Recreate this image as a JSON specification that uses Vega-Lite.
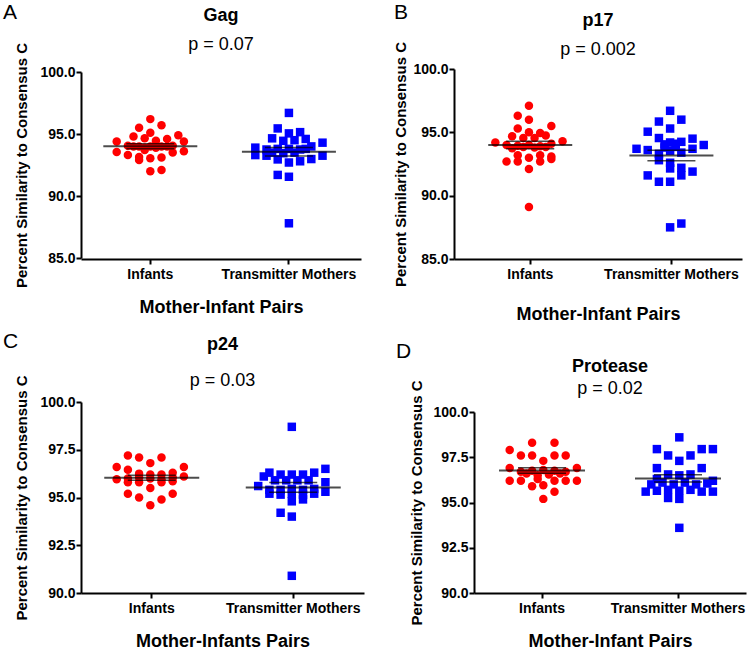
{
  "$schema": "https://vega.github.io/schema/vega-lite/v6.json",
  "background": "white",
  "padding": {"left": 2, "top": 2, "right": 2, "bottom": 0},
  "datasets": {
    "points": [
      {"panel":"A","group":"Infants","col":0,"value":96.2},{"panel":"A","group":"Infants","col":-2,"value":95.5},{"panel":"A","group":"Infants","col":2,"value":95.7},{"panel":"A","group":"Infants","col":0,"value":95.1},{"panel":"A","group":"Infants","col":-3,"value":94.8},{"panel":"A","group":"Infants","col":5,"value":94.9},{"panel":"A","group":"Infants","col":-6,"value":94.4},{"panel":"A","group":"Infants","col":-1,"value":94.65},{"panel":"A","group":"Infants","col":1,"value":94.45},{"panel":"A","group":"Infants","col":3,"value":94.6},{"panel":"A","group":"Infants","col":6,"value":94.4},{"panel":"A","group":"Infants","col":-4,"value":94.05},{"panel":"A","group":"Infants","col":-3,"value":94.0},{"panel":"A","group":"Infants","col":-2,"value":94.0},{"panel":"A","group":"Infants","col":-1,"value":93.9},{"panel":"A","group":"Infants","col":0,"value":94.0},{"panel":"A","group":"Infants","col":1,"value":93.9},{"panel":"A","group":"Infants","col":2,"value":94.0},{"panel":"A","group":"Infants","col":3,"value":94.0},{"panel":"A","group":"Infants","col":4,"value":94.05},{"panel":"A","group":"Infants","col":-6,"value":93.55},{"panel":"A","group":"Infants","col":-4,"value":93.3},{"panel":"A","group":"Infants","col":-2,"value":93.15},{"panel":"A","group":"Infants","col":4,"value":93.5},{"panel":"A","group":"Infants","col":6,"value":93.6},{"panel":"A","group":"Infants","col":-1,"value":93.7},{"panel":"A","group":"Infants","col":-2,"value":92.9},{"panel":"A","group":"Infants","col":0,"value":93.05},{"panel":"A","group":"Infants","col":2,"value":93.1},{"panel":"A","group":"Infants","col":0,"value":92.0},{"panel":"A","group":"Infants","col":2,"value":92.1},
      {"panel":"A","group":"Transmitter Mothers","col":0,"value":96.7},{"panel":"A","group":"Transmitter Mothers","col":-2,"value":95.45},{"panel":"A","group":"Transmitter Mothers","col":0,"value":95.05},{"panel":"A","group":"Transmitter Mothers","col":2,"value":95.15},{"panel":"A","group":"Transmitter Mothers","col":-3,"value":94.65},{"panel":"A","group":"Transmitter Mothers","col":-1,"value":94.45},{"panel":"A","group":"Transmitter Mothers","col":1,"value":94.5},{"panel":"A","group":"Transmitter Mothers","col":3,"value":94.6},{"panel":"A","group":"Transmitter Mothers","col":6,"value":94.3},{"panel":"A","group":"Transmitter Mothers","col":-6,"value":93.9},{"panel":"A","group":"Transmitter Mothers","col":-4,"value":93.75},{"panel":"A","group":"Transmitter Mothers","col":-2,"value":93.8},{"panel":"A","group":"Transmitter Mothers","col":0,"value":93.8},{"panel":"A","group":"Transmitter Mothers","col":2,"value":93.75},{"panel":"A","group":"Transmitter Mothers","col":4,"value":94.0},{"panel":"A","group":"Transmitter Mothers","col":-3,"value":93.5},{"panel":"A","group":"Transmitter Mothers","col":1,"value":93.5},{"panel":"A","group":"Transmitter Mothers","col":3,"value":93.8},{"panel":"A","group":"Transmitter Mothers","col":-1,"value":93.45},{"panel":"A","group":"Transmitter Mothers","col":-6,"value":93.3},{"panel":"A","group":"Transmitter Mothers","col":-4,"value":93.25},{"panel":"A","group":"Transmitter Mothers","col":-2,"value":92.95},{"panel":"A","group":"Transmitter Mothers","col":0,"value":92.7},{"panel":"A","group":"Transmitter Mothers","col":2,"value":92.8},{"panel":"A","group":"Transmitter Mothers","col":4,"value":92.98},{"panel":"A","group":"Transmitter Mothers","col":6,"value":93.25},{"panel":"A","group":"Transmitter Mothers","col":-2,"value":91.7},{"panel":"A","group":"Transmitter Mothers","col":0,"value":91.55},{"panel":"A","group":"Transmitter Mothers","col":0,"value":87.8},
      {"panel":"B","group":"Infants","col":0,"value":97.1},{"panel":"B","group":"Infants","col":-2,"value":96.3},{"panel":"B","group":"Infants","col":0,"value":96.0},{"panel":"B","group":"Infants","col":-2,"value":95.3},{"panel":"B","group":"Infants","col":4,"value":95.5},{"panel":"B","group":"Infants","col":0,"value":95.0},{"panel":"B","group":"Infants","col":2,"value":94.95},{"panel":"B","group":"Infants","col":-3,"value":94.7},{"panel":"B","group":"Infants","col":3,"value":94.75},{"panel":"B","group":"Infants","col":-1,"value":94.55},{"panel":"B","group":"Infants","col":1,"value":94.55},{"panel":"B","group":"Infants","col":-6,"value":94.2},{"panel":"B","group":"Infants","col":6,"value":94.3},{"panel":"B","group":"Infants","col":-4,"value":94.0},{"panel":"B","group":"Infants","col":-2,"value":93.95},{"panel":"B","group":"Infants","col":0,"value":94.0},{"panel":"B","group":"Infants","col":2,"value":93.9},{"panel":"B","group":"Infants","col":4,"value":94.1},{"panel":"B","group":"Infants","col":-3,"value":93.75},{"panel":"B","group":"Infants","col":-1,"value":93.85},{"panel":"B","group":"Infants","col":1,"value":93.8},{"panel":"B","group":"Infants","col":3,"value":93.85},{"panel":"B","group":"Infants","col":-2,"value":93.2},{"panel":"B","group":"Infants","col":0,"value":93.0},{"panel":"B","group":"Infants","col":2,"value":93.2},{"panel":"B","group":"Infants","col":4,"value":93.1},{"panel":"B","group":"Infants","col":4,"value":92.9},{"panel":"B","group":"Infants","col":-4,"value":92.7},{"panel":"B","group":"Infants","col":-2,"value":92.7},{"panel":"B","group":"Infants","col":2,"value":92.7},{"panel":"B","group":"Infants","col":0,"value":92.1},{"panel":"B","group":"Infants","col":0,"value":89.1},
      {"panel":"B","group":"Transmitter Mothers","col":0,"value":96.7},{"panel":"B","group":"Transmitter Mothers","col":-2,"value":95.85},{"panel":"B","group":"Transmitter Mothers","col":2,"value":96.0},{"panel":"B","group":"Transmitter Mothers","col":-4,"value":95.05},{"panel":"B","group":"Transmitter Mothers","col":0,"value":95.3},{"panel":"B","group":"Transmitter Mothers","col":-2,"value":94.55},{"panel":"B","group":"Transmitter Mothers","col":4,"value":94.5},{"panel":"B","group":"Transmitter Mothers","col":0,"value":94.2},{"panel":"B","group":"Transmitter Mothers","col":2,"value":94.25},{"panel":"B","group":"Transmitter Mothers","col":-1,"value":94.05},{"panel":"B","group":"Transmitter Mothers","col":1,"value":94.1},{"panel":"B","group":"Transmitter Mothers","col":-6,"value":93.7},{"panel":"B","group":"Transmitter Mothers","col":6,"value":94.0},{"panel":"B","group":"Transmitter Mothers","col":4,"value":93.7},{"panel":"B","group":"Transmitter Mothers","col":-4,"value":93.6},{"panel":"B","group":"Transmitter Mothers","col":-1,"value":93.8},{"panel":"B","group":"Transmitter Mothers","col":1,"value":93.85},{"panel":"B","group":"Transmitter Mothers","col":0,"value":93.55},{"panel":"B","group":"Transmitter Mothers","col":-2,"value":93.3},{"panel":"B","group":"Transmitter Mothers","col":2,"value":93.4},{"panel":"B","group":"Transmitter Mothers","col":-2,"value":92.8},{"panel":"B","group":"Transmitter Mothers","col":0,"value":92.6},{"panel":"B","group":"Transmitter Mothers","col":-4,"value":91.6},{"panel":"B","group":"Transmitter Mothers","col":2,"value":91.6},{"panel":"B","group":"Transmitter Mothers","col":4,"value":91.9},{"panel":"B","group":"Transmitter Mothers","col":2,"value":92.2},{"panel":"B","group":"Transmitter Mothers","col":0,"value":92.15},{"panel":"B","group":"Transmitter Mothers","col":-2,"value":91.1},{"panel":"B","group":"Transmitter Mothers","col":0,"value":91.1},{"panel":"B","group":"Transmitter Mothers","col":0,"value":87.5},{"panel":"B","group":"Transmitter Mothers","col":2,"value":87.8},
      {"panel":"C","group":"Infants","col":-4,"value":97.2},{"panel":"C","group":"Infants","col":-2,"value":97.1},{"panel":"C","group":"Infants","col":2,"value":97.1},{"panel":"C","group":"Infants","col":0,"value":96.8},{"panel":"C","group":"Infants","col":-6,"value":96.6},{"panel":"C","group":"Infants","col":-4,"value":96.45},{"panel":"C","group":"Infants","col":6,"value":96.6},{"panel":"C","group":"Infants","col":-2,"value":96.25},{"panel":"C","group":"Infants","col":0,"value":96.2},{"panel":"C","group":"Infants","col":2,"value":96.2},{"panel":"C","group":"Infants","col":4,"value":96.3},{"panel":"C","group":"Infants","col":-6,"value":95.95},{"panel":"C","group":"Infants","col":-4,"value":96.0},{"panel":"C","group":"Infants","col":-2,"value":96.05},{"panel":"C","group":"Infants","col":0,"value":96.0},{"panel":"C","group":"Infants","col":2,"value":95.95},{"panel":"C","group":"Infants","col":4,"value":96.05},{"panel":"C","group":"Infants","col":6,"value":96.1},{"panel":"C","group":"Infants","col":-4,"value":95.8},{"panel":"C","group":"Infants","col":-2,"value":95.8},{"panel":"C","group":"Infants","col":2,"value":95.8},{"panel":"C","group":"Infants","col":4,"value":95.85},{"panel":"C","group":"Infants","col":0,"value":95.5},{"panel":"C","group":"Infants","col":-4,"value":95.2},{"panel":"C","group":"Infants","col":4,"value":95.2},{"panel":"C","group":"Infants","col":-2,"value":95.0},{"panel":"C","group":"Infants","col":2,"value":94.9},{"panel":"C","group":"Infants","col":0,"value":94.6},
      {"panel":"C","group":"Transmitter Mothers","col":0,"value":98.7},{"panel":"C","group":"Transmitter Mothers","col":6,"value":96.5},{"panel":"C","group":"Transmitter Mothers","col":-4,"value":96.3},{"panel":"C","group":"Transmitter Mothers","col":-2,"value":96.2},{"panel":"C","group":"Transmitter Mothers","col":0,"value":96.2},{"panel":"C","group":"Transmitter Mothers","col":2,"value":96.2},{"panel":"C","group":"Transmitter Mothers","col":4,"value":96.3},{"panel":"C","group":"Transmitter Mothers","col":-5,"value":96.1},{"panel":"C","group":"Transmitter Mothers","col":-3,"value":95.9},{"panel":"C","group":"Transmitter Mothers","col":-1,"value":95.9},{"panel":"C","group":"Transmitter Mothers","col":1,"value":95.9},{"panel":"C","group":"Transmitter Mothers","col":3,"value":95.9},{"panel":"C","group":"Transmitter Mothers","col":-6,"value":95.6},{"panel":"C","group":"Transmitter Mothers","col":6,"value":95.8},{"panel":"C","group":"Transmitter Mothers","col":-4,"value":95.4},{"panel":"C","group":"Transmitter Mothers","col":-2,"value":95.4},{"panel":"C","group":"Transmitter Mothers","col":0,"value":95.45},{"panel":"C","group":"Transmitter Mothers","col":2,"value":95.4},{"panel":"C","group":"Transmitter Mothers","col":4,"value":95.45},{"panel":"C","group":"Transmitter Mothers","col":6,"value":95.3},{"panel":"C","group":"Transmitter Mothers","col":-4,"value":95.2},{"panel":"C","group":"Transmitter Mothers","col":-2,"value":95.15},{"panel":"C","group":"Transmitter Mothers","col":0,"value":95.2},{"panel":"C","group":"Transmitter Mothers","col":2,"value":95.15},{"panel":"C","group":"Transmitter Mothers","col":4,"value":95.2},{"panel":"C","group":"Transmitter Mothers","col":0,"value":94.8},{"panel":"C","group":"Transmitter Mothers","col":2,"value":94.9},{"panel":"C","group":"Transmitter Mothers","col":-2,"value":94.2},{"panel":"C","group":"Transmitter Mothers","col":0,"value":94.0},{"panel":"C","group":"Transmitter Mothers","col":0,"value":90.9},
      {"panel":"D","group":"Infants","col":-2,"value":98.3},{"panel":"D","group":"Infants","col":2,"value":98.3},{"panel":"D","group":"Infants","col":-6,"value":97.9},{"panel":"D","group":"Infants","col":-4,"value":97.6},{"panel":"D","group":"Infants","col":-2,"value":97.6},{"panel":"D","group":"Infants","col":2,"value":97.6},{"panel":"D","group":"Infants","col":4,"value":97.6},{"panel":"D","group":"Infants","col":0,"value":97.3},{"panel":"D","group":"Infants","col":-6,"value":96.9},{"panel":"D","group":"Infants","col":6,"value":96.9},{"panel":"D","group":"Infants","col":-4,"value":96.7},{"panel":"D","group":"Infants","col":-2,"value":96.75},{"panel":"D","group":"Infants","col":0,"value":96.8},{"panel":"D","group":"Infants","col":2,"value":96.75},{"panel":"D","group":"Infants","col":4,"value":96.7},{"panel":"D","group":"Infants","col":-3,"value":96.6},{"panel":"D","group":"Infants","col":-1,"value":96.5},{"panel":"D","group":"Infants","col":1,"value":96.55},{"panel":"D","group":"Infants","col":3,"value":96.6},{"panel":"D","group":"Infants","col":-6,"value":96.2},{"panel":"D","group":"Infants","col":-4,"value":96.2},{"panel":"D","group":"Infants","col":-1,"value":96.3},{"panel":"D","group":"Infants","col":2,"value":96.2},{"panel":"D","group":"Infants","col":4,"value":96.2},{"panel":"D","group":"Infants","col":6,"value":96.2},{"panel":"D","group":"Infants","col":-2,"value":95.9},{"panel":"D","group":"Infants","col":0,"value":95.95},{"panel":"D","group":"Infants","col":2,"value":95.6},{"panel":"D","group":"Infants","col":0,"value":95.2},
      {"panel":"D","group":"Transmitter Mothers","col":0,"value":98.6},{"panel":"D","group":"Transmitter Mothers","col":-4,"value":97.95},{"panel":"D","group":"Transmitter Mothers","col":4,"value":97.95},{"panel":"D","group":"Transmitter Mothers","col":6,"value":97.95},{"panel":"D","group":"Transmitter Mothers","col":-2,"value":97.6},{"panel":"D","group":"Transmitter Mothers","col":2,"value":97.6},{"panel":"D","group":"Transmitter Mothers","col":0,"value":97.3},{"panel":"D","group":"Transmitter Mothers","col":-4,"value":96.9},{"panel":"D","group":"Transmitter Mothers","col":4,"value":96.9},{"panel":"D","group":"Transmitter Mothers","col":-2,"value":96.55},{"panel":"D","group":"Transmitter Mothers","col":0,"value":96.5},{"panel":"D","group":"Transmitter Mothers","col":2,"value":96.55},{"panel":"D","group":"Transmitter Mothers","col":-4,"value":96.3},{"panel":"D","group":"Transmitter Mothers","col":6,"value":96.2},{"panel":"D","group":"Transmitter Mothers","col":-5,"value":96.0},{"panel":"D","group":"Transmitter Mothers","col":-3,"value":96.1},{"panel":"D","group":"Transmitter Mothers","col":-1,"value":96.0},{"panel":"D","group":"Transmitter Mothers","col":1,"value":96.1},{"panel":"D","group":"Transmitter Mothers","col":3,"value":96.0},{"panel":"D","group":"Transmitter Mothers","col":5,"value":96.05},{"panel":"D","group":"Transmitter Mothers","col":-6,"value":95.6},{"panel":"D","group":"Transmitter Mothers","col":-4,"value":95.65},{"panel":"D","group":"Transmitter Mothers","col":-2,"value":95.7},{"panel":"D","group":"Transmitter Mothers","col":0,"value":95.65},{"panel":"D","group":"Transmitter Mothers","col":2,"value":95.7},{"panel":"D","group":"Transmitter Mothers","col":4,"value":95.6},{"panel":"D","group":"Transmitter Mothers","col":6,"value":95.6},{"panel":"D","group":"Transmitter Mothers","col":-2,"value":95.25},{"panel":"D","group":"Transmitter Mothers","col":0,"value":95.2},{"panel":"D","group":"Transmitter Mothers","col":0,"value":93.6}
    ],
    "means": [
      {"panel":"A","group":"Infants","mean":94.02,"lo":93.82,"hi":94.22},
      {"panel":"A","group":"Transmitter Mothers","mean":93.57,"lo":93.22,"hi":93.92},
      {"panel":"B","group":"Infants","mean":94.0,"lo":93.7,"hi":94.3},
      {"panel":"B","group":"Transmitter Mothers","mean":93.17,"lo":92.75,"hi":93.59},
      {"panel":"C","group":"Infants","mean":96.03,"lo":95.9,"hi":96.16},
      {"panel":"C","group":"Transmitter Mothers","mean":95.53,"lo":95.28,"hi":95.78},
      {"panel":"D","group":"Infants","mean":96.77,"lo":96.62,"hi":96.92},
      {"panel":"D","group":"Transmitter Mothers","mean":96.33,"lo":96.13,"hi":96.53}
    ]
  },
  "config": {
    "font": "Liberation Sans",
    "view": {"stroke": null},
    "axis": {"domainColor": "black", "domainWidth": 2, "tickColor": "black", "tickWidth": 2, "tickSize": 5, "labelColor": "black", "labelFont": "Liberation Sans", "labelFontWeight": "bold", "labelFontSize": 14, "labelOverlap": false, "titleFont": "Liberation Sans", "titleFontWeight": "bold", "titleColor": "black", "grid": false},
    "axisX": {"labelAngle": 0, "titleFontSize": 18, "titlePadding": 17, "labelPadding": 3},
    "axisY": {"titleFontSize": 15, "titlePadding": 10, "labelPadding": 1},
    "title": {"font": "Liberation Sans", "fontSize": 18, "fontWeight": "bold", "color": "black", "subtitleFont": "Liberation Sans", "subtitleFontSize": 18, "subtitleFontWeight": "normal", "subtitleColor": "black", "anchor": "middle"},
    "point": {"filled": true, "opacity": 1, "size": 72}
  },
  "spacing": 7,
  "vconcat": [
    {
      "spacing": 32,
      "hconcat": [
        {
          "title": {"text": "A", "anchor": "start", "fontSize": 21, "fontWeight": "normal", "offset": -16, "dx": -12},
          "vconcat": [{
            "width": 280, "height": 190,
            "title": {"text": "Gag", "subtitle": "p = 0.07", "offset": -12, "subtitlePadding": 11},
            "layer": [
              {"data": {"name": "points"}, "transform": [{"filter": "datum.panel === 'A'"}], "mark": {"type": "point", "filled": true},
               "encoding": {
                 "x": {"field": "group", "type": "nominal", "title": "Mother-Infant Pairs", "scale": {"type": "band", "domain": ["Infants", "Transmitter Mothers"], "paddingInner": 0, "paddingOuter": 0.01, "align": 0}},
                 "xOffset": {"field": "col", "type": "quantitative", "scale": {"domain": [-10, 10], "range": [13.3, 125.3]}},
                 "y": {"field": "value", "type": "quantitative", "title": "Percent Similarity to Consensus C", "scale": {"domain": [85, 100], "range": [189, 3], "nice": false, "zero": false}, "axis": {"values": [85, 87.5, 90, 92.5, 95, 97.5, 100], "format": ".1f"}},
                 "color": {"field": "group", "type": "nominal", "scale": {"domain": ["Infants", "Transmitter Mothers"], "range": ["#ff0000", "#0000ff"]}, "legend": null},
                 "shape": {"field": "group", "type": "nominal", "scale": {"domain": ["Infants", "Transmitter Mothers"], "range": ["circle", "square"]}, "legend": null}
               }},
              {"data": {"name": "means"}, "transform": [{"filter": "datum.panel === 'A'"}], "mark": {"type": "tick", "color": "black", "thickness": 2, "size": 94},
               "encoding": {"x": {"field": "group", "type": "nominal", "title": "Mother-Infant Pairs"}, "y": {"field": "mean", "type": "quantitative", "title": "Percent Similarity to Consensus C"}}},
              {"data": {"name": "means"}, "transform": [{"filter": "datum.panel === 'A'"}], "mark": {"type": "tick", "color": "black", "opacity": 0.7, "thickness": 1.5, "size": 48},
               "encoding": {"x": {"field": "group", "type": "nominal", "title": "Mother-Infant Pairs"}, "y": {"field": "lo", "type": "quantitative", "title": "Percent Similarity to Consensus C"}}},
              {"data": {"name": "means"}, "transform": [{"filter": "datum.panel === 'A'"}], "mark": {"type": "tick", "color": "black", "opacity": 0.7, "thickness": 1.5, "size": 48},
               "encoding": {"x": {"field": "group", "type": "nominal", "title": "Mother-Infant Pairs"}, "y": {"field": "hi", "type": "quantitative", "title": "Percent Similarity to Consensus C"}}}
            ]
          }]
        },
        {
          "title": {"text": "B", "anchor": "start", "fontSize": 21, "fontWeight": "normal", "offset": -11},
          "vconcat": [{
            "width": 288, "height": 190,
            "title": {"text": "p17", "subtitle": "p = 0.002", "offset": -18, "subtitlePadding": 11},
            "layer": [
              {"data": {"name": "points"}, "transform": [{"filter": "datum.panel === 'B'"}], "mark": {"type": "point", "filled": true},
               "encoding": {
                 "x": {"field": "group", "type": "nominal", "title": "Mother-Infant Pairs", "scale": {"type": "band", "domain": ["Infants", "Transmitter Mothers"], "paddingInner": 0, "paddingOuter": 0.02, "align": 1}, "axis": {"titlePadding": 24}},
                 "xOffset": {"field": "col", "type": "quantitative", "scale": {"domain": [-10, 10], "range": [14.6, 126.6]}},
                 "y": {"field": "value", "type": "quantitative", "title": "Percent Similarity to Consensus C", "scale": {"domain": [85, 100], "nice": false, "zero": false}, "axis": {"values": [85, 87.5, 90, 92.5, 95, 97.5, 100], "format": ".1f", "titlePadding": 4}},
                 "color": {"field": "group", "type": "nominal", "scale": {"domain": ["Infants", "Transmitter Mothers"], "range": ["#ff0000", "#0000ff"]}, "legend": null},
                 "shape": {"field": "group", "type": "nominal", "scale": {"domain": ["Infants", "Transmitter Mothers"], "range": ["circle", "square"]}, "legend": null}
               }},
              {"data": {"name": "means"}, "transform": [{"filter": "datum.panel === 'B'"}], "mark": {"type": "tick", "color": "black", "thickness": 2, "size": 84},
               "encoding": {"x": {"field": "group", "type": "nominal", "title": "Mother-Infant Pairs"}, "y": {"field": "mean", "type": "quantitative", "title": "Percent Similarity to Consensus C"}}},
              {"data": {"name": "means"}, "transform": [{"filter": "datum.panel === 'B'"}], "mark": {"type": "tick", "color": "black", "opacity": 0.7, "thickness": 1.5, "size": 48},
               "encoding": {"x": {"field": "group", "type": "nominal", "title": "Mother-Infant Pairs"}, "y": {"field": "lo", "type": "quantitative", "title": "Percent Similarity to Consensus C"}}},
              {"data": {"name": "means"}, "transform": [{"filter": "datum.panel === 'B'"}], "mark": {"type": "tick", "color": "black", "opacity": 0.7, "thickness": 1.5, "size": 48},
               "encoding": {"x": {"field": "group", "type": "nominal", "title": "Mother-Infant Pairs"}, "y": {"field": "hi", "type": "quantitative", "title": "Percent Similarity to Consensus C"}}}
            ]
          }]
        }
      ]
    },
    {
      "spacing": 31,
      "hconcat": [
        {
          "title": {"text": "C", "anchor": "start", "fontSize": 21, "fontWeight": "normal", "offset": -16, "dx": -12},
          "vconcat": [{
            "width": 283, "height": 191,
            "title": {"text": "p24", "subtitle": "p = 0.03", "offset": -15, "subtitlePadding": 18},
            "layer": [
              {"data": {"name": "points"}, "transform": [{"filter": "datum.panel === 'C'"}], "mark": {"type": "point", "filled": true},
               "encoding": {
                 "x": {"field": "group", "type": "nominal", "title": "Mother-Infants Pairs", "scale": {"type": "band", "domain": ["Infants", "Transmitter Mothers"], "paddingInner": 0, "paddingOuter": 0}, "axis": {"titlePadding": 17}},
                 "xOffset": {"field": "col", "type": "quantitative", "scale": {"domain": [-10, 10], "range": [14.75, 126.75]}},
                 "y": {"field": "value", "type": "quantitative", "title": "Percent Similarity to Consensus C", "scale": {"domain": [90, 100], "nice": false, "zero": false}, "axis": {"values": [90, 92.5, 95, 97.5, 100], "format": ".1f"}},
                 "color": {"field": "group", "type": "nominal", "scale": {"domain": ["Infants", "Transmitter Mothers"], "range": ["#ff0000", "#0000ff"]}, "legend": null},
                 "shape": {"field": "group", "type": "nominal", "scale": {"domain": ["Infants", "Transmitter Mothers"], "range": ["circle", "square"]}, "legend": null}
               }},
              {"data": {"name": "means"}, "transform": [{"filter": "datum.panel === 'C'"}], "mark": {"type": "tick", "color": "black", "thickness": 2, "size": 95},
               "encoding": {"x": {"field": "group", "type": "nominal", "title": "Mother-Infants Pairs"}, "y": {"field": "mean", "type": "quantitative", "title": "Percent Similarity to Consensus C"}}},
              {"data": {"name": "means"}, "transform": [{"filter": "datum.panel === 'C'"}], "mark": {"type": "tick", "color": "black", "opacity": 0.7, "thickness": 1.5, "size": 48},
               "encoding": {"x": {"field": "group", "type": "nominal", "title": "Mother-Infants Pairs"}, "y": {"field": "lo", "type": "quantitative", "title": "Percent Similarity to Consensus C"}}},
              {"data": {"name": "means"}, "transform": [{"filter": "datum.panel === 'C'"}], "mark": {"type": "tick", "color": "black", "opacity": 0.7, "thickness": 1.5, "size": 48},
               "encoding": {"x": {"field": "group", "type": "nominal", "title": "Mother-Infants Pairs"}, "y": {"field": "hi", "type": "quantitative", "title": "Percent Similarity to Consensus C"}}}
            ]
          }]
        },
        {
          "title": {"text": "D", "anchor": "start", "fontSize": 21, "fontWeight": "normal", "offset": -4, "dx": -14},
          "vconcat": [{
            "width": 272, "height": 191,
            "title": {"text": "Protease", "subtitle": "p = 0.02", "offset": -18, "subtitlePadding": 4},
            "layer": [
              {"data": {"name": "points"}, "transform": [{"filter": "datum.panel === 'D'"}], "mark": {"type": "point", "filled": true},
               "encoding": {
                 "x": {"field": "group", "type": "nominal", "title": "Mother-Infant Pairs", "scale": {"type": "band", "domain": ["Infants", "Transmitter Mothers"], "paddingInner": 0, "paddingOuter": 0}, "axis": {"titlePadding": 17}},
                 "xOffset": {"field": "col", "type": "quantitative", "scale": {"domain": [-10, 10], "range": [12, 124]}},
                 "y": {"field": "value", "type": "quantitative", "title": "Percent Similarity to Consensus C", "scale": {"domain": [90, 100], "range": [191, 10], "nice": false, "zero": false}, "axis": {"values": [90, 92.5, 95, 97.5, 100], "format": ".1f", "titlePadding": 8}},
                 "color": {"field": "group", "type": "nominal", "scale": {"domain": ["Infants", "Transmitter Mothers"], "range": ["#ff0000", "#0000ff"]}, "legend": null},
                 "shape": {"field": "group", "type": "nominal", "scale": {"domain": ["Infants", "Transmitter Mothers"], "range": ["circle", "square"]}, "legend": null}
               }},
              {"data": {"name": "means"}, "transform": [{"filter": "datum.panel === 'D'"}], "mark": {"type": "tick", "color": "black", "thickness": 2, "size": 86},
               "encoding": {"x": {"field": "group", "type": "nominal", "title": "Mother-Infant Pairs"}, "y": {"field": "mean", "type": "quantitative", "title": "Percent Similarity to Consensus C"}}},
              {"data": {"name": "means"}, "transform": [{"filter": "datum.panel === 'D'"}], "mark": {"type": "tick", "color": "black", "opacity": 0.7, "thickness": 1.5, "size": 48},
               "encoding": {"x": {"field": "group", "type": "nominal", "title": "Mother-Infant Pairs"}, "y": {"field": "lo", "type": "quantitative", "title": "Percent Similarity to Consensus C"}}},
              {"data": {"name": "means"}, "transform": [{"filter": "datum.panel === 'D'"}], "mark": {"type": "tick", "color": "black", "opacity": 0.7, "thickness": 1.5, "size": 48},
               "encoding": {"x": {"field": "group", "type": "nominal", "title": "Mother-Infant Pairs"}, "y": {"field": "hi", "type": "quantitative", "title": "Percent Similarity to Consensus C"}}}
            ]
          }]
        }
      ]
    }
  ]
}
